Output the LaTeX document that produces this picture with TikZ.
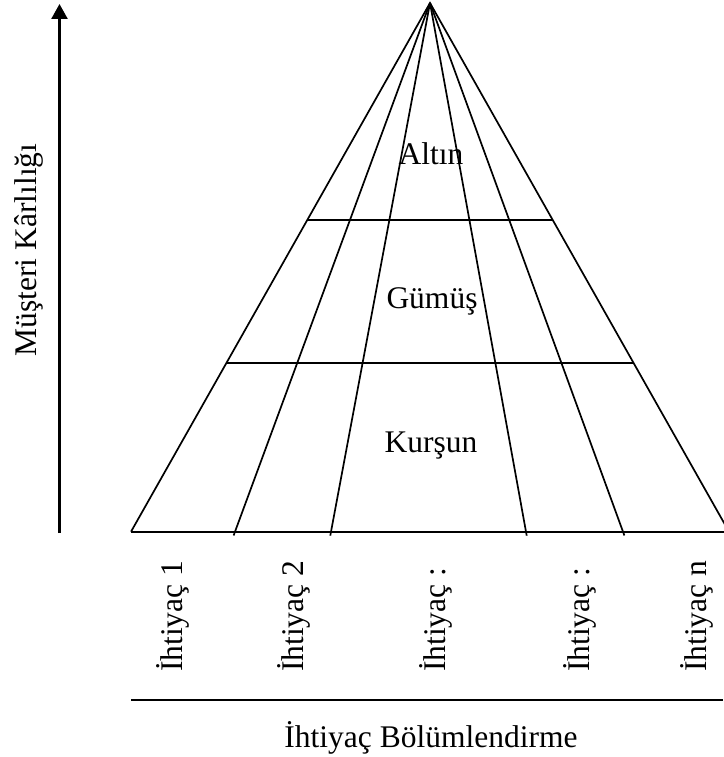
\documentclass[tikz,border=0pt]{standalone}
\usepackage{fontspec}
\setmainfont{Liberation Serif}
\usetikzlibrary{arrows.meta,calc}

\begin{document}
\begin{tikzpicture}[x=1pt,y=-1pt,
  every node/.style={inner sep=0pt,font=\fontsize{31.5}{36}\selectfont},
  edge/.style={line width=1.7pt},
  axis/.style={line width=2.2pt},
  needlabel/.style={rotate=90,anchor=base west},
  tier/.style={anchor=base}]
  \useasboundingbox (0,0) rectangle (723,757);

  % pyramid corners and the foot points of the need segments
  \coordinate (apex) at (430,3);
  \coordinate (L) at (131,531.7);
  \coordinate (R) at (729,531.7);
  \coordinate (b1) at (235,531.7);
  \coordinate (b2) at (331,531.7);
  \coordinate (b3) at (526,531.7);
  \coordinate (b4) at (623,531.7);

  % outline and base
  \draw[edge] (L) -- (apex) -- (R);
  \draw[edge] (L) -- (R);

  % segment dividers running from the apex down through the base
  \foreach \b in {b1,b2,b3,b4}
    \draw[edge,shorten >=-4pt] (apex) -- (\b);

  % tier boundaries
  \draw[edge] ($(apex)!0.4104!(L)$) -- ($(apex)!0.4104!(R)$);
  \draw[edge] ($(apex)!0.6809!(L)$) -- ($(apex)!0.6809!(R)$);

  % tier names
  \node[tier] (gold)   at (431,164) {Altın};
  \node[tier] (silver) at (432,308) {Gümüş};
  \node[tier] (lead)   at (431,452) {Kurşun};

  % profitability axis
  \coordinate (ybot) at (59.5,533);
  \coordinate (ytop) at (59.5,4);
  \draw[axis,line width=2.5pt,-{Triangle[length=15pt,width=16pt]}] (ybot) -- (ytop);
  \node[rotate=90,anchor=base] (ylab) at (36,250) {Müşteri Kârlılığı};

  % need segments along the bottom
  \node[needlabel] (n1) at (182,672) {İhtiyaç 1};
  \node[needlabel] (n2) at (303,672) {İhtiyaç 2};
  \node[needlabel] (n3) at (445,672) {İhtiyaç :};
  \node[needlabel] (n4) at (589,672) {İhtiyaç :};
  \node[needlabel] (n5) at (706,672) {İhtiyaç n};

  % segmentation axis
  \coordinate (xl) at (131,700);
  \coordinate (xr) at (723,700);
  \draw[axis] (xl) -- (xr);
  \node[tier] (xlab) at (431,747) {İhtiyaç Bölümlendirme};
\end{tikzpicture}
\end{document}
